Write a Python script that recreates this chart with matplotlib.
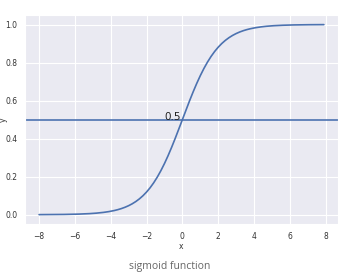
import numpy as np
import matplotlib
matplotlib.use("Agg")
import matplotlib.pyplot as plt
import seaborn as sns

sns.set_style("darkgrid")
plt.rcParams['font.family'] = ['DejaVu Sans']

# sigmoid sampled on the same grid as the original notebook
x = np.arange(-8, 8, 0.1)
y = 1 / (1 + np.exp(-x))
mid_value = 0.5
mid_label = "0.5"
title = "sigmoid function"

fig = plt.figure(figsize=(3.5, 2.75), dpi=100)
ax = fig.add_axes([0.071, 0.185, 0.895, 0.76])

ax.plot(x, y, color="#4c72b0", lw=1.2)
ax.axhline(mid_value, color="#4c72b0", lw=1.2)
ax.text(-1, mid_value, mid_label, fontsize=7.5, color="#222222")

ax.set_xticks(np.arange(-8, 9, 2))
ax.set_yticks(np.arange(0, 1.01, 0.2))
ax.tick_params(labelsize=5.5, colors="#333333", pad=2)
ax.set_xlabel("x", fontsize=5.5, labelpad=1, color="#333333")
ax.set_ylabel("y", fontsize=5.5, color="#333333")
ax.yaxis.set_label_coords(-0.055, 0.5)

fig.text(0.485, 0.03, title, ha="center", va="center",
         fontsize=7.5, color="#666666", family="Open Sans")

fig.savefig("out.png", dpi=100)
